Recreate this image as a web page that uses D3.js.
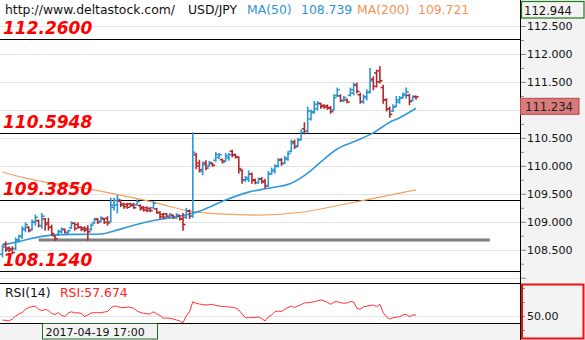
<!DOCTYPE html>
<html>
<head>
<meta charset="utf-8">
<script src="https://cdn.jsdelivr.net/npm/d3@7/dist/d3.min.js"></script>
<style>
  html, body { margin: 0; padding: 0; background: #fff; }
  svg { display: block; font-family: "DejaVu Sans", Verdana, sans-serif; }
</style>
</head>
<body>
<svg id="chart" width="585" height="340"></svg>
<script>
// USD/JPY hourly OHLC bars, bar index 0..126
const opens = [
  108.42,108.60,108.53,108.52,108.52,108.67,108.74,108.86,108.90,108.86,
  108.99,109.02,108.93,109.05,108.98,108.90,108.75,108.77,108.82,108.86,
  108.80,108.89,108.97,108.95,108.90,108.89,108.88,108.86,108.98,109.05,
  109.01,109.05,109.06,109.00,109.26,109.30,109.37,109.32,109.31,109.32,
  109.31,109.30,109.29,109.26,109.25,109.24,109.25,109.23,109.16,109.13,
  109.14,109.08,109.11,109.08,109.10,109.05,109.08,109.19,109.10,110.20,
  110.05,109.90,110.05,110.00,110.04,110.10,110.15,110.11,110.09,110.14,
  110.26,110.20,110.15,109.92,109.74,109.76,109.85,109.75,109.70,109.77,
  109.73,109.65,109.86,109.90,110.00,110.11,110.05,110.12,110.26,110.43,
  110.36,110.47,110.66,110.62,110.84,110.97,111.02,111.11,111.08,111.07,
  111.04,111.00,111.26,111.25,111.16,111.18,111.26,111.30,111.44,111.27,
  111.14,111.22,111.32,111.55,111.66,111.70,111.40,111.18,111.02,110.98,
  111.06,111.14,111.22,111.26,111.26,111.17,111.24
];
const highs = [
  108.58,108.64,108.55,108.55,108.71,108.76,108.91,108.98,108.91,109.03,
  109.12,109.03,109.15,109.06,109.06,108.94,108.76,108.85,108.89,108.87,
  108.85,109.00,108.98,108.98,108.91,108.91,108.93,108.96,109.06,109.06,
  109.09,109.06,109.09,109.42,109.42,109.47,109.39,109.33,109.33,109.33,
  109.33,109.39,109.30,109.27,109.27,109.25,109.36,109.24,109.18,109.15,
  109.15,109.15,109.12,109.15,109.12,109.15,109.24,109.21,110.59,110.22,
  110.10,110.07,110.09,110.08,110.05,110.24,110.22,110.12,110.22,110.22,
  110.28,110.21,110.16,109.93,109.81,109.91,109.87,109.76,109.78,109.79,
  109.76,109.90,109.96,110.02,110.13,110.13,110.17,110.25,110.46,110.46,
  110.49,110.64,110.77,111.05,111.00,111.15,111.15,111.12,111.09,111.09,
  111.06,111.27,111.39,111.27,111.24,111.19,111.39,111.48,111.48,111.30,
  111.27,111.36,111.74,111.59,111.71,111.77,111.44,111.20,111.05,111.09,
  111.24,111.24,111.30,111.39,111.28,111.25,111.25
];
const lows = [
  108.37,108.47,108.47,108.43,108.50,108.64,108.70,108.82,108.82,108.85,
  108.94,108.91,108.88,108.85,108.85,108.76,108.67,108.76,108.80,108.80,
  108.78,108.88,108.85,108.89,108.84,108.82,108.67,108.85,108.97,108.97,
  109.00,108.97,108.94,109.00,109.21,109.16,109.27,109.24,109.24,109.27,
  109.24,109.30,109.21,109.19,109.18,109.18,109.24,109.15,109.06,109.06,
  109.09,109.06,109.06,109.06,109.03,108.85,109.06,109.06,109.08,109.95,
  109.89,109.84,109.93,109.99,109.99,110.08,110.13,110.05,110.08,110.10,
  110.16,110.14,109.87,109.69,109.72,109.72,109.69,109.68,109.69,109.69,
  109.60,109.63,109.85,109.87,109.98,110.01,110.04,110.10,110.25,110.31,
  110.34,110.46,110.57,110.60,110.82,110.94,111.00,111.03,111.03,111.01,
  110.94,111.00,111.24,111.15,111.15,111.13,111.25,111.27,111.30,111.12,
  111.12,111.18,111.30,111.36,111.41,111.48,111.12,110.98,110.87,110.97,
  111.06,111.12,111.21,111.21,111.09,111.16,111.19
];
const closes = [
  108.55,108.50,108.49,108.45,108.68,108.74,108.88,108.95,108.84,109.00,
  109.08,108.93,109.10,108.95,108.90,108.79,108.70,108.83,108.87,108.81,
  108.84,108.98,108.88,108.90,108.86,108.85,108.82,108.94,109.04,108.99,
  109.07,108.99,108.98,109.30,109.38,109.40,109.30,109.27,109.26,109.29,
  109.25,109.36,109.23,109.21,109.20,109.20,109.33,109.17,109.09,109.08,
  109.10,109.13,109.07,109.12,109.05,108.95,109.20,109.10,110.24,110.00,
  109.93,110.02,109.96,110.06,110.01,110.20,110.20,110.07,110.18,110.20,
  110.19,110.16,109.95,109.75,109.79,109.85,109.74,109.70,109.76,109.71,
  109.64,109.85,109.93,109.99,110.10,110.04,110.14,110.22,110.40,110.34,
  110.46,110.60,110.62,110.98,110.95,111.10,111.12,111.06,111.05,111.03,
  110.97,111.22,111.36,111.17,111.22,111.14,111.36,111.45,111.33,111.15,
  111.24,111.31,111.52,111.42,111.50,111.52,111.18,111.02,110.92,111.05,
  111.18,111.21,111.28,111.32,111.15,111.23,111.234
];

// RSI(14) per bar
const rsi = [
  44.3,43.6,42.9,45.7,50.0,52.9,55.0,59.6,62.1,63.3,
  64.0,59.6,57.674,59.3,57.9,53.6,52.1,54.7,50.7,49.3,
  54.3,56.1,54.3,54.7,53.6,49.3,51.4,54.3,54.7,54.7,
  54.7,55.7,56.4,61.4,64.3,63.6,62.1,61.9,62.9,62.1,
  61.0,57.1,55.0,53.9,53.1,52.9,56.1,52.9,50.7,46.7,
  47.1,46.7,45.7,44.3,42.9,40.4,50.0,56.1,70.4,68.1,
  67.1,66.4,65.7,66.1,66.7,65.0,64.3,63.6,63.3,62.9,
  62.4,61.4,58.6,52.9,47.6,47.6,47.6,47.9,48.6,46.4,
  42.9,48.6,51.4,56.1,57.1,56.4,59.6,62.1,64.3,62.1,
  64.3,66.4,68.6,69.0,69.7,70.4,71.7,72.9,71.7,69.3,
  66.7,70.0,70.4,69.0,68.3,68.6,70.7,70.0,61.0,59.6,
  63.3,63.9,65.0,65.7,63.3,66.7,54.7,48.6,45.7,47.6,
  48.1,49.0,51.4,52.4,49.0,51.4,51.4
];

// Moving averages, [bar index, value]
const ma50 = [
  [0,108.584],[5,108.647],[12,108.739],[18,108.77],[24,108.775],[30,108.78],
  [34,108.835],[39,108.92],[45,109.01],[51,109.07],[57,109.14],[60,109.19],
  [68,109.39],[75,109.53],[81,109.60],[88,109.69],[93,109.87],[97,110.07],
  [102,110.30],[107,110.43],[113,110.59],[118,110.78],[121,110.86],[126,111.03]
];
const ma200 = [
  [0,109.89],[7,109.78],[12,109.721],[27,109.58],[39,109.44],[48,109.32],
  [57,109.19],[66,109.14],[78,109.12],[91,109.17],[103,109.30],[115,109.44],[126,109.57]
];

// Horizontal price levels and their labels
const levels = [112.26, 110.5948, 109.385, 108.124];
const levelLabels = ["112.2600", "110.5948", "109.3850", "108.1240"];
// Support line: price, first bar index, last bar index
const support = [108.674, 11, 148.5];

// Price axis ticks
const priceTicks = [107.75,108,108.25,108.5,108.75,109,109.25,109.5,109.75,110,110.25,110.5,110.75,111,111.25,111.5,111.75,112,112.25,112.5,112.75];
const rsiTicks = [30, 50, 70, 90];

const header = {
  site: "http://www.deltastock.com/",
  symbol: "USD/JPY",
  ma50Label: "MA(50)", ma50Value: "108.739",
  ma200Label: "MA(200)", ma200Value: "109.721",
  rsiLabel: "RSI(14)", rsiValue: "RSI:57.674",
  axisTop: "112.944",
  cursorTime: "2017-04-19 17:00",
  cursorBar: 12
};

const W = 585, H = 340, plotR = 520;
const mainTop = 0, mainBot = 283, rsiTop = 283, rsiBot = 323;
const UP = "#2b96d3", DOWN = "#b3282d";
const BLUE = "#3399dd", ORANGE = "#f4a062";

const svg = d3.select("#chart");
const N = closes.length;

const x = d3.scaleLinear().domain([0, N - 1]).range([2.5, 416]);
const y = d3.scaleLinear().domain([108, 112.5]).range([277.7, 26]);
const yR = d3.scaleLinear().domain([50, 70]).range([316, 302]);

// backgrounds
svg.append("rect").attr("x", 0).attr("y", 0).attr("width", W).attr("height", H).attr("fill", "#fff");
svg.append("rect").attr("x", plotR).attr("y", 0).attr("width", W - plotR).attr("height", H).attr("fill", "#f3f3f3");
svg.append("rect").attr("x", 0).attr("y", rsiBot).attr("width", plotR).attr("height", H - rsiBot).attr("fill", "#f3f3f3");

const defs = svg.append("defs");
defs.append("clipPath").attr("id", "clipMain").append("rect")
  .attr("x", 0).attr("y", mainTop).attr("width", plotR).attr("height", mainBot - mainTop);
defs.append("clipPath").attr("id", "clipRsi").append("rect")
  .attr("x", 0).attr("y", rsiTop).attr("width", plotR).attr("height", rsiBot - rsiTop);

const main = svg.append("g").attr("clip-path", "url(#clipMain)");

// gridlines at each half yen
const isMajor = d => Math.abs(d * 2 - Math.round(d * 2)) < 1e-9;
main.selectAll("line.grid").data(priceTicks.filter(isMajor))
  .join("line").attr("class", "grid")
  .attr("x1", 0).attr("x2", plotR)
  .attr("y1", d => Math.round(y(d)) + 0.5).attr("y2", d => Math.round(y(d)) + 0.5)
  .attr("stroke", "#e4e4e4").attr("stroke-width", 1);

// support line
main.append("line")
  .attr("x1", x(support[1])).attr("x2", x(support[2]))
  .attr("y1", y(support[0])).attr("y2", y(support[0]))
  .attr("stroke", "#7f7f7f").attr("stroke-width", 3);

// level lines
main.selectAll("line.level").data(levels).join("line").attr("class", "level")
  .attr("x1", 0).attr("x2", plotR)
  .attr("y1", d => Math.round(y(d)) + 0.5).attr("y2", d => Math.round(y(d)) + 0.5)
  .attr("stroke", "#000").attr("stroke-width", 1);

// moving averages
const maLine = d3.line().x(d => x(d[0])).y(d => y(d[1])).curve(d3.curveMonotoneX);
main.append("path").datum(ma200).attr("d", maLine)
  .attr("fill", "none").attr("stroke", ORANGE).attr("stroke-width", 1.2);
main.append("path").datum(ma50).attr("d", maLine)
  .attr("fill", "none").attr("stroke", BLUE).attr("stroke-width", 1.6);

// OHLC bars
const bars = main.selectAll("g.bar").data(d3.range(N)).join("g").attr("class", "bar")
  .attr("stroke", i => closes[i] >= opens[i] ? UP : DOWN)
  .attr("stroke-width", 1.6);
bars.append("line")
  .attr("x1", i => x(i)).attr("x2", i => x(i))
  .attr("y1", i => y(highs[i]) - 0.5).attr("y2", i => y(lows[i]) + 0.5);
bars.append("line")
  .attr("x1", i => x(i) - 2.6).attr("x2", i => x(i))
  .attr("y1", i => y(opens[i])).attr("y2", i => y(opens[i]));
bars.append("line")
  .attr("x1", i => x(i)).attr("x2", i => x(i) + 2.6)
  .attr("y1", i => y(closes[i])).attr("y2", i => y(closes[i]));

// level labels
main.selectAll("text.lvl").data(levels).join("text").attr("class", "lvl")
  .attr("x", 3).attr("y", d => Math.round(y(d)) - 5)
  .attr("fill", "#ff0000").attr("font-weight", "bold").attr("font-style", "italic")
  .attr("font-size", 17)
  .text((d, i) => levelLabels[i]);

// header
const hdr = svg.append("g").attr("font-size", 12.4);
hdr.append("text").attr("x", 5).attr("y", 14).attr("fill", "#111").text(header.site);
hdr.append("text").attr("x", 188).attr("y", 14).attr("fill", "#111").text(header.symbol);
hdr.append("text").attr("x", 247).attr("y", 14).attr("fill", "#2e93d6").text(header.ma50Label);
hdr.append("text").attr("x", 301).attr("y", 14).attr("fill", "#2e93d6").text(header.ma50Value);
hdr.append("text").attr("x", 357).attr("y", 14).attr("fill", "#f39455").text(header.ma200Label);
hdr.append("text").attr("x", 418).attr("y", 14).attr("fill", "#f39455").text(header.ma200Value);

// RSI panel
const rp = svg.append("g").attr("clip-path", "url(#clipRsi)");
rp.append("line").attr("x1", 0).attr("x2", plotR)
  .attr("y1", Math.round(yR(50)) + 0.5).attr("y2", Math.round(yR(50)) + 0.5)
  .attr("stroke", "#e4e4e4");
rp.append("path").datum(rsi)
  .attr("d", d3.line().x((d, i) => x(i)).y(d => yR(d)))
  .attr("fill", "none").attr("stroke", "#ff3030").attr("stroke-width", 1);
svg.append("text").attr("x", 5).attr("y", 297).attr("font-size", 12.4).attr("fill", "#111").text(header.rsiLabel);
svg.append("text").attr("x", 60).attr("y", 297).attr("font-size", 12.4).attr("fill", "#ff2020").text(header.rsiValue);

// panel borders
[mainBot, rsiBot].forEach(v => {
  svg.append("line").attr("x1", 0).attr("x2", plotR).attr("y1", v + 0.5).attr("y2", v + 0.5)
    .attr("stroke", "#000");
});
svg.append("line").attr("x1", plotR + 0.5).attr("x2", plotR + 0.5).attr("y1", 0).attr("y2", H)
  .attr("stroke", "#000");

// last price box position (labels under it are hidden)
const last = closes[N - 1];
const lastY = y(last) + 1.5;
const boxH = 16;

// price axis
const showLabel = d => isMajor(d) && y(d) < 265 && !(y(d) > lastY - 6 && y(d) < lastY + boxH + 6);
const priceAxis = d3.axisRight(y).tickValues(priceTicks.filter(d => y(d) > 4 && y(d) < mainBot))
  .tickSize(5).tickPadding(1)
  .tickFormat(d => showLabel(d) ? d3.format(".3f")(d) : "");
const pa = svg.append("g").attr("transform", `translate(${plotR + 1},0)`).call(priceAxis);
pa.select(".domain").remove();
pa.selectAll(".tick line").attr("stroke", "#888").attr("x2", d => isMajor(d) ? 5 : 3);
pa.selectAll(".tick text").attr("font-family", "DejaVu Sans, Verdana, sans-serif")
  .attr("font-size", 11).attr("fill", "#111");

// RSI axis
const rsiAxis = d3.axisRight(yR).tickValues(rsiTicks).tickSize(4).tickPadding(2)
  .tickFormat(d => d === 50 ? d3.format(".2f")(d) : "");
const ra = svg.append("g").attr("transform", `translate(${plotR + 1},0)`).call(rsiAxis);
ra.select(".domain").remove();
ra.selectAll(".tick line").attr("stroke", "#888");
ra.selectAll(".tick text").attr("font-family", "DejaVu Sans, Verdana, sans-serif")
  .attr("font-size", 11).attr("fill", "#111");

// axis-top value box
const topY = Math.max(1.5, y(+header.axisTop));
svg.append("rect").attr("x", 521.5).attr("y", topY).attr("width", 62.5).attr("height", 16.5)
  .attr("fill", "#f3f3f3").attr("stroke", "#1f7a1f").attr("stroke-width", 1.2);
svg.append("text").attr("x", 524).attr("y", topY + 13).attr("font-size", 11.6)
  .attr("fill", "#111").text(header.axisTop);

// last price box
svg.append("rect").attr("x", 520.5).attr("y", lastY).attr("width", 58.5).attr("height", boxH)
  .attr("fill", "#d97b7b").attr("stroke", "#b84545").attr("stroke-width", 1);
svg.append("text").attr("x", 525).attr("y", lastY + 12.5).attr("font-size", 11.6)
  .attr("fill", "#222").text(d3.format(".3f")(last));

// RSI axis frame
svg.append("rect").attr("x", 522).attr("y", 284.5).attr("width", 61.5).attr("height", 54)
  .attr("fill", "none").attr("stroke", "#ee1111").attr("stroke-width", 2);

// cursor time box
const cx = Math.round(x(header.cursorBar)) + 0.5;
svg.append("rect").attr("x", cx).attr("y", rsiBot + 0.5).attr("width", 115).attr("height", 15.5)
  .attr("fill", "#f3f3f3").attr("stroke", "#1f6f1f").attr("stroke-width", 1);
svg.append("text").attr("x", cx + 3).attr("y", 335.5).attr("font-size", 11).attr("fill", "#111")
  .text(header.cursorTime);
</script>
</body>
</html>
